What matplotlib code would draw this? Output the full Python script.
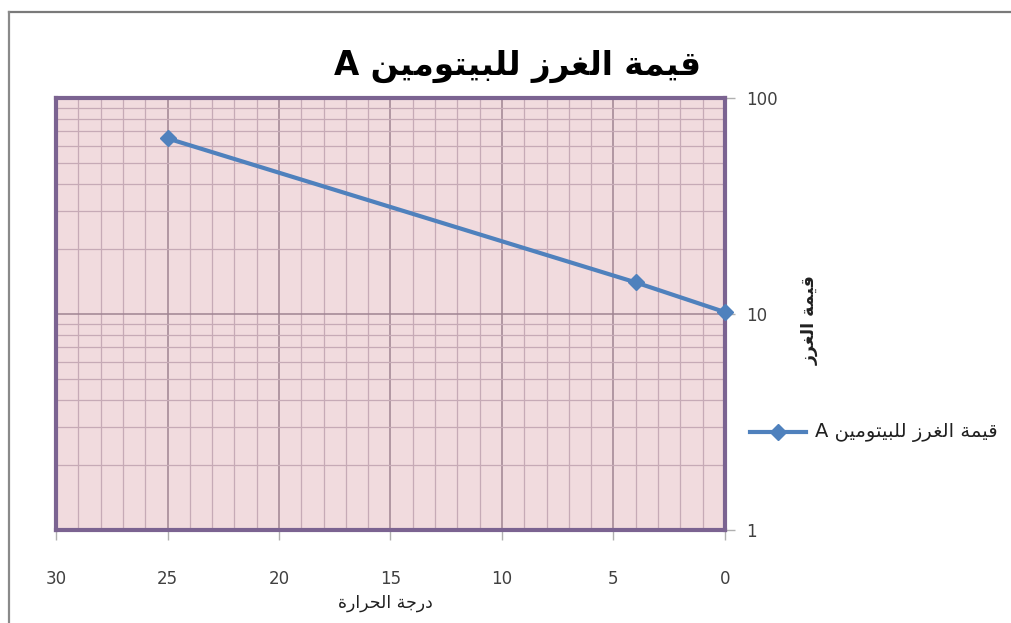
import matplotlib
matplotlib.use("Agg")
import matplotlib.pyplot as plt
from matplotlib.ticker import MultipleLocator, LogLocator, FixedLocator, NullFormatter
from matplotlib.lines import Line2D

# ---- data ----
temperature = [25, 4, 0]
penetration = [65, 14, 10.2]
x_ticks = [30, 25, 20, 15, 10, 5, 0]
y_ticks = [1, 10, 100]
title_text = "قيمة الغرز للبيتومين A"
xlabel_text = "درجة الحرارة"
ylabel_text = "قيمة الغرز"
legend_text = "قيمة الغرز للبيتومين A"

# ---- minimal Arabic shaping (presentation forms) + visual ordering ----
# letter: (isolated, final, initial, medial); None for initial/medial = right-joining only
FORMS = {
    "\u0627": ("\uFE8D", "\uFE8E", None, None),
    "\u0628": ("\uFE8F", "\uFE90", "\uFE91", "\uFE92"),
    "\u0629": ("\uFE93", "\uFE94", None, None),
    "\u062A": ("\uFE95", "\uFE96", "\uFE97", "\uFE98"),
    "\u062C": ("\uFE9D", "\uFE9E", "\uFE9F", "\uFEA0"),
    "\u062D": ("\uFEA1", "\uFEA2", "\uFEA3", "\uFEA4"),
    "\u062F": ("\uFEA9", "\uFEAA", None, None),
    "\u0631": ("\uFEAD", "\uFEAE", None, None),
    "\u0632": ("\uFEAF", "\uFEB0", None, None),
    "\u063A": ("\uFECD", "\uFECE", "\uFECF", "\uFED0"),
    "\u0642": ("\uFED5", "\uFED6", "\uFED7", "\uFED8"),
    "\u0644": ("\uFEDD", "\uFEDE", "\uFEDF", "\uFEE0"),
    "\u0645": ("\uFEE1", "\uFEE2", "\uFEE3", "\uFEE4"),
    "\u0646": ("\uFEE5", "\uFEE6", "\uFEE7", "\uFEE8"),
    "\u0648": ("\uFEED", "\uFEEE", None, None),
    "\u064A": ("\uFEF1", "\uFEF2", "\uFEF3", "\uFEF4"),
}


def joins_left(ch):
    return ch in FORMS and FORMS[ch][2] is not None


def shape_word(word):
    out = []
    n = len(word)
    for i, ch in enumerate(word):
        if ch not in FORMS:
            out.append(ch)
            continue
        prev_joins = i > 0 and joins_left(word[i - 1])
        next_exists = i + 1 < n and word[i + 1] in FORMS
        can_left = joins_left(ch) and next_exists
        iso, fin, ini, med = FORMS[ch]
        if prev_joins and can_left:
            out.append(med)
        elif prev_joins:
            out.append(fin)
        elif can_left:
            out.append(ini)
        else:
            out.append(iso)
    return "".join(out)


def ar(text):
    words = text.split(" ")
    vis = []
    for w in words:
        if any(c in FORMS for c in w):
            vis.append(shape_word(w)[::-1])
        else:
            vis.append(w)
    return " ".join(vis[::-1])


plt.rcParams["font.family"] = ["DejaVu Sans"]

W, H = 1012, 623
fig = plt.figure(figsize=(W / 100, H / 100), dpi=100)
fig.patch.set_facecolor("white")

# outer chart frame (top and left edges)
fig.add_artist(Line2D([9 / W, 1.0], [1 - 12 / H, 1 - 12 / H], transform=fig.transFigure,
                      color="#7a7a7a", linewidth=1.6))
fig.add_artist(Line2D([9 / W, 9 / W], [0.0, 1 - 12 / H], transform=fig.transFigure,
                      color="#8a8a8a", linewidth=1.6))

ax = fig.add_axes([56 / W, 1 - 530 / H, (725 - 56) / W, (530 - 98) / H])
ax.set_facecolor("#f1dbde")
ax.set_yscale("log")
ax.set_xlim(30, 0)
ax.set_ylim(1, 100)

ax.xaxis.set_major_locator(FixedLocator(x_ticks))
ax.xaxis.set_minor_locator(MultipleLocator(1))
ax.yaxis.set_major_locator(FixedLocator(y_ticks))
ax.yaxis.set_minor_locator(LogLocator(base=10, subs=range(2, 10)))
ax.yaxis.set_minor_formatter(NullFormatter())
ax.set_yticklabels([str(v) for v in y_ticks])
ax.set_xticklabels([str(v) for v in x_ticks])

ax.grid(which="major", color="#9f8492", linewidth=1.1)
ax.grid(which="minor", color="#c6aab6", linewidth=0.9)
ax.set_axisbelow(True)

ax.yaxis.tick_right()
ax.tick_params(axis="both", which="major", labelsize=12, labelcolor="#404040",
               color="#b0b0b0", length=7, width=1)
ax.tick_params(axis="x", which="major", pad=22)
ax.tick_params(axis="y", which="major", pad=8)
ax.tick_params(which="minor", length=0)

for s in ax.spines.values():
    s.set_color("#7b6391")
    s.set_linewidth(3)

ax.plot(temperature, penetration, color="#4f81bd", linewidth=3, marker="D",
        markersize=8, markerfacecolor="#4f81bd", markeredgecolor="#4f81bd",
        solid_capstyle="round", clip_on=False, zorder=5)

fig.text(518 / W, 1 - 66 / H, ar(title_text), ha="center", va="center",
         fontsize=23.5, fontweight="bold", color="black")
fig.text(385 / W, 1 - 603 / H, ar(xlabel_text), ha="center", va="center",
         fontsize=12.5, color="#202020")
fig.text(810 / W, 1 - 320 / H, ar(ylabel_text), ha="center", va="center",
         rotation=90, fontsize=12.5, fontweight="bold", color="#202020")

# legend entry
ly = 1 - 432 / H
fig.add_artist(Line2D([750 / W, 806 / W], [ly, ly], transform=fig.transFigure,
                      color="#4f81bd", linewidth=3))
fig.add_artist(Line2D([778 / W], [ly], transform=fig.transFigure, color="#4f81bd",
                      marker="D", markersize=8))
fig.text(815 / W, ly, ar(legend_text), ha="left", va="center", fontsize=14,
         color="#202020")

fig.savefig("out.png", dpi=100)
